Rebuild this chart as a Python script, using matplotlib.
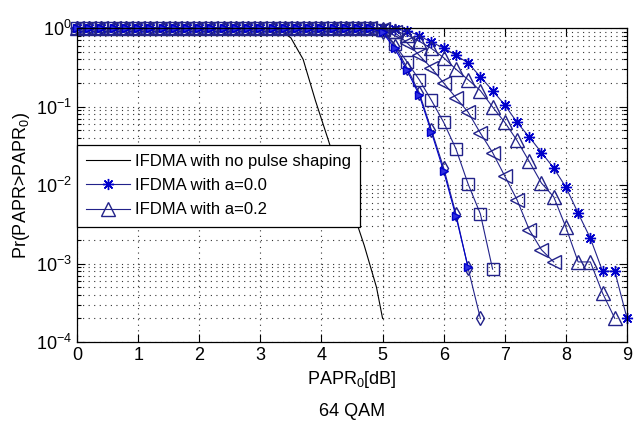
import numpy as np
import matplotlib.pyplot as plt
from matplotlib.ticker import LogLocator, NullFormatter, FixedLocator

plt.rcParams['font.family'] = ['Liberation Sans', 'DejaVu Sans']
plt.rcParams['mathtext.fontset'] = 'custom'
plt.rcParams['mathtext.rm'] = 'Liberation Sans'
plt.rcParams['mathtext.it'] = 'Liberation Sans'

# PAPR grid of the simulated curves [dB]
papr_db = np.round(np.arange(0, 9.01, 0.2), 1)

# no pulse shaping (plain line, own x points)
x_nops = [0.0, 3.0, 3.3, 3.5, 3.7, 3.9, 4.1, 4.3, 4.5, 4.7, 4.9, 5.0]
ccdf_nops = [1.0, 1.0, 0.97, 0.75, 0.4, 0.12, 0.04, 0.013, 0.005, 0.0017, 0.0005, 0.0002]

# CCDF values on papr_db, 0 -> 4.8 dB are all ~1
ccdf_a00 = [1, 1, 1, 1, 1, 1, 1, 1, 1, 1, 1, 1, 1, 1, 1, 1, 1, 1, 1, 1, 1, 1, 1, 1, 1,
            1.0, 0.97, 0.93, 0.8, 0.66, 0.56, 0.45, 0.36, 0.24, 0.16, 0.105, 0.063,
            0.041, 0.026, 0.0165, 0.0094, 0.0044, 0.0021, 0.0008, 0.0008, 0.0002]
ccdf_a02 = [1, 1, 1, 1, 1, 1, 1, 1, 1, 1, 1, 1, 1, 1, 1, 1, 1, 1, 1, 1, 1, 1, 1, 1, 1,
            0.97, 0.92, 0.82, 0.68, 0.55, 0.42, 0.30, 0.22, 0.16, 0.099, 0.063, 0.037,
            0.020, 0.0106, 0.0071, 0.0029, 0.00105, 0.00105, 0.00042, 0.0002]
ccdf_a04 = [1, 1, 1, 1, 1, 1, 1, 1, 1, 1, 1, 1, 1, 1, 1, 1, 1, 1, 1, 1, 1, 1, 1, 1, 1,
            0.97, 0.88, 0.65, 0.45, 0.31, 0.20, 0.13, 0.085, 0.046, 0.026, 0.013, 0.0065,
            0.0027, 0.0015, 0.00105]
ccdf_a06 = [1, 1, 1, 1, 1, 1, 1, 1, 1, 1, 1, 1, 1, 1, 1, 1, 1, 1, 1, 1, 1, 1, 1, 1, 1,
            0.95, 0.62, 0.37, 0.22, 0.12, 0.063, 0.029, 0.0103, 0.0043, 0.00085]
ccdf_a08 = [1, 1, 1, 1, 1, 1, 1, 1, 1, 1, 1, 1, 1, 1, 1, 1, 1, 1, 1, 1, 1, 1, 1, 1, 1,
            0.9, 0.6, 0.31, 0.15, 0.05, 0.0165, 0.0043, 0.00087, 0.0002]
ccdf_a10 = [1, 1, 1, 1, 1, 1, 1, 1, 1, 1, 1, 1, 1, 1, 1, 1, 1, 1, 1, 1, 1, 1, 1, 1, 1,
            0.88, 0.55, 0.29, 0.14, 0.047, 0.015, 0.004, 0.0009]

labels = ['IFDMA with no pulse shaping', 'IFDMA with a=0.0', 'IFDMA with a=0.2']

fig = plt.figure(figsize=(6.34, 4.26), dpi=100)
ax = fig.add_axes([0.1215, 0.197, 0.8675, 0.737])

navy = '#22228a'
blue = '#0000cc'
asterisk = (8, 2, 0)
ax.plot(x_nops, ccdf_nops, color='k', lw=0.8, label=labels[0])
ax.plot(papr_db[:len(ccdf_a00)], ccdf_a00, color=navy, lw=0.8, marker=asterisk, ms=8,
        mew=1.0, mec=blue, label=labels[1], clip_on=False)
ax.plot(papr_db[:len(ccdf_a02)], ccdf_a02, color=navy, lw=0.8, marker='^', ms=10,
        mfc='none', mec=navy, mew=1.0, label=labels[2], clip_on=False)
ax.plot(papr_db[:len(ccdf_a04)], ccdf_a04, color=navy, lw=0.8, marker='<', ms=10,
        mfc='none', mec=navy, mew=1.0, clip_on=False)
ax.plot(papr_db[:len(ccdf_a06)], ccdf_a06, color=navy, lw=0.8, marker='s', ms=8,
        mfc='none', mec=navy, mew=1.0, clip_on=False)
ax.plot(papr_db[:len(ccdf_a08)], ccdf_a08, color=navy, lw=0.8, marker='d', ms=7,
        mfc='none', mec=navy, mew=1.0, clip_on=False)
ax.plot(papr_db[:len(ccdf_a10)], ccdf_a10, color=blue, lw=0.8, marker='>', ms=6,
        mfc='#3030e0', mec=blue, clip_on=False)

ax.set_yscale('log')
ax.set_xlim(0, 9)
ax.set_ylim(1e-4, 1)
ax.xaxis.set_major_locator(FixedLocator(range(10)))
ax.yaxis.set_major_locator(LogLocator(base=10))
ax.yaxis.set_minor_locator(LogLocator(base=10, subs=np.arange(2, 10)))
ax.yaxis.set_minor_formatter(NullFormatter())

#rejilla punteada como matlab
ax.grid(True, which='major', axis='both', color='#333333', ls=(0, (1, 4)), lw=0.8)
ax.grid(True, which='minor', axis='y', color='#333333', ls=(0, (1, 4)), lw=0.8)

ax.tick_params(which='both', direction='in', top=True, right=True, labelsize=13)
ax.tick_params(which='major', length=6, width=0.8)
ax.tick_params(which='minor', length=3, width=0.8)
for s in ax.spines.values():
    s.set_linewidth(0.9)

ax.set_ylabel(r'Pr(PAPR>PAPR$_0$)', fontsize=13, labelpad=3)
ax.set_xlabel(r'PAPR$_0$[dB]', fontsize=13, labelpad=4)
fig.text(0.555, 0.035, '64 QAM', ha='center', va='center', fontsize=13)

leg = ax.legend(loc='upper left', bbox_to_anchor=(0.0, 0.628), borderaxespad=0,
                fontsize=12, handlelength=2.6, fancybox=False, framealpha=1,
                edgecolor='k', borderpad=0.55, labelspacing=0.55, handletextpad=0.3)
leg.get_frame().set_linewidth(0.9)

fig.savefig('out.png', dpi=100)
